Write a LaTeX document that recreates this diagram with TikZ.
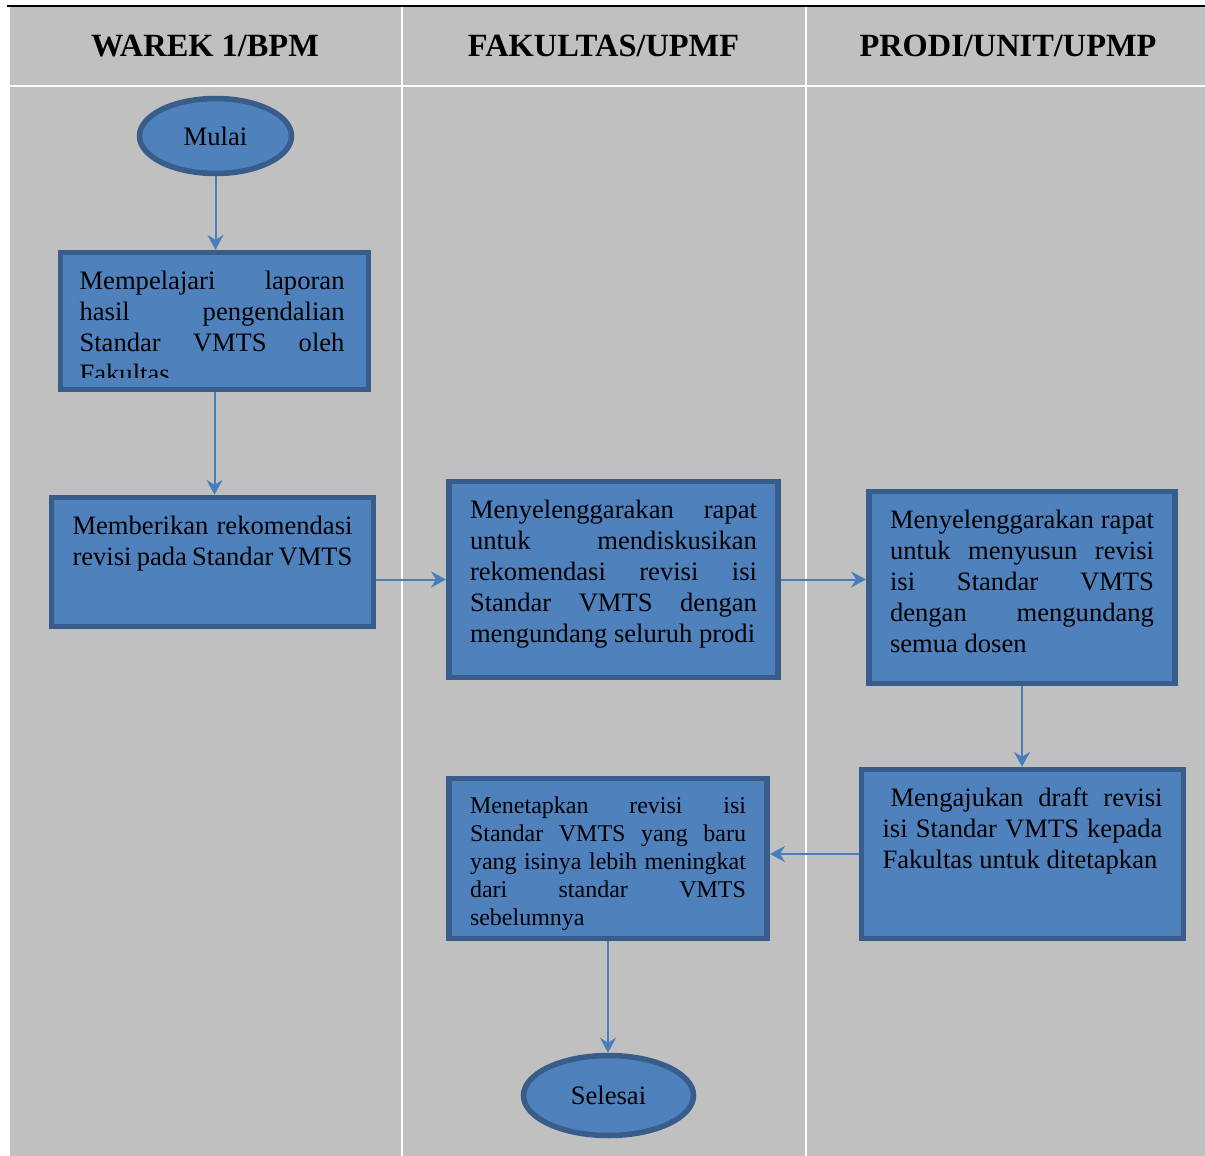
\documentclass[tikz,border=0pt]{standalone}
\usepackage{fontspec}
\setmainfont{Liberation Serif}
\usetikzlibrary{shapes.geometric,arrows.meta,positioning}

\definecolor{lanegrey}{HTML}{C0C0C0}
\definecolor{boxfill}{HTML}{4F81BD}
\definecolor{boxdraw}{HTML}{385D8A}
\definecolor{arrowblue}{HTML}{4A7EBB}

\newcommand{\bodyfont}{\fontsize{13.3}{15.5}\selectfont}
\newcommand{\smallbodyfont}{\fontsize{12}{14}\selectfont}
\newcommand{\headfont}{\fontsize{16.2}{19}\selectfont\bfseries}
% text block at the top of a box: width, height, text
\newcommand{\boxtext}[3]{\parbox[c][#2][t]{#1}{\strut #3}}
\hyphenpenalty=10000
\exhyphenpenalty=10000

\begin{document}
\begin{tikzpicture}[x=0.5pt,y=-0.5pt,
	procbox/.style={rectangle, draw=boxdraw, line width=2.75pt, fill=boxfill, inner xsep=10.6pt, inner ysep=7.4pt, font=\bodyfont},
	termbox/.style={ellipse, draw=boxdraw, line width=2.75pt, fill=boxfill, inner sep=0pt, font=\bodyfont},
	lanehead/.style={anchor=base, font=\headfont},
	flowarrow/.style={draw=arrowblue, line width=1pt, -{Stealth[length=7.5pt,width=8pt,inset=2.5pt]}}]
	\useasboundingbox (0,0) rectangle (1205,1156);
	% lanes
	\fill[lanegrey] (10,7) rectangle (1205,1156);
	\draw[black, line width=1.2pt] (7,6) -- (1205,6);
	\draw[white, line width=1pt] (402,7) -- (402,1156);
	\draw[white, line width=1pt] (806,7) -- (806,1156);
	\draw[white, line width=1pt] (10,86) -- (1205,86);
	\node[lanehead] (warek) at (205,57) {WAREK 1/BPM};
	\node[lanehead] (fakultas) at (603.5,57) {FAKULTAS/UPMF};
	\node[lanehead] (prodi) at (1008,57) {PRODI/UNIT/UPMP};
	% steps
	\node[termbox, minimum width=76pt, minimum height=37.5pt] (mulai) at (215.5,136) {Mulai};
	\node[procbox, minimum width=153.8pt, minimum height=68.3pt] (pelajari) at (214.5,321) {};
	\begin{scope}
		\clip (pelajari.north west) rectangle (369,377);
		\node[anchor=north west, inner sep=0pt, text width=132.5pt, align=justify, font=\bodyfont] (pelajari-teks) at ([xshift=10.6pt,yshift=-8.9pt]pelajari.north west) {\strut Mempelajari laporan\linebreak hasil pengendalian\linebreak Standar VMTS oleh\linebreak Fakultas};
	\end{scope}
	\node[procbox] (rekomendasi) at (212.5,562) {\boxtext{140pt}{49.6pt}{Memberikan rekomendasi\linebreak revisi pada Standar VMTS}};
	\node[procbox] (rapatfak) at (613.5,579.5) {\boxtext{143.5pt}{83.1pt}{Menyelenggarakan rapat\linebreak untuk mendiskusikan\linebreak rekomendasi revisi isi\linebreak Standar VMTS dengan\linebreak mengundang seluruh prodi}};
	\node[procbox] (rapatprodi) at (1022,587.5) {\boxtext{132pt}{81.1pt}{Menyelenggarakan rapat\linebreak untuk menyusun revisi\linebreak isi Standar VMTS\linebreak dengan mengundang\linebreak semua dosen}};
	\node[procbox] (draft) at (1022.5,854) {\boxtext{140pt}{69.6pt}{\hspace*{4pt}Mengajukan draft revisi\linebreak isi Standar VMTS kepada\linebreak Fakultas untuk ditetapkan}};
	\node[procbox, font=\smallbodyfont] (tetapkan) at (608,858.5) {\boxtext{138pt}{65.1pt}{Menetapkan revisi isi\linebreak Standar VMTS yang baru\linebreak yang isinya lebih meningkat\linebreak dari standar VMTS\linebreak sebelumnya}};
	\node[termbox, minimum width=85pt, minimum height=40pt] (selesai) at (608.5,1095.5) {Selesai};
	% connectors
	\draw[flowarrow] (mulai.south) -- (mulai.south |- pelajari.north);
	\draw[flowarrow] (pelajari.south) -- (pelajari.south |- rekomendasi.north);
	\draw[flowarrow] (rekomendasi.east |- rapatfak.west) -- (rapatfak.west);
	\draw[flowarrow] (rapatfak.east) -- (rapatfak.east -| rapatprodi.west);
	\draw[flowarrow] (rapatprodi.south) -- (rapatprodi.south |- draft.north);
	\draw[flowarrow] (draft.west) -- (draft.west -| tetapkan.east);
	\draw[flowarrow] (tetapkan.south) -- (tetapkan.south |- selesai.north);
\end{tikzpicture}
\end{document}
